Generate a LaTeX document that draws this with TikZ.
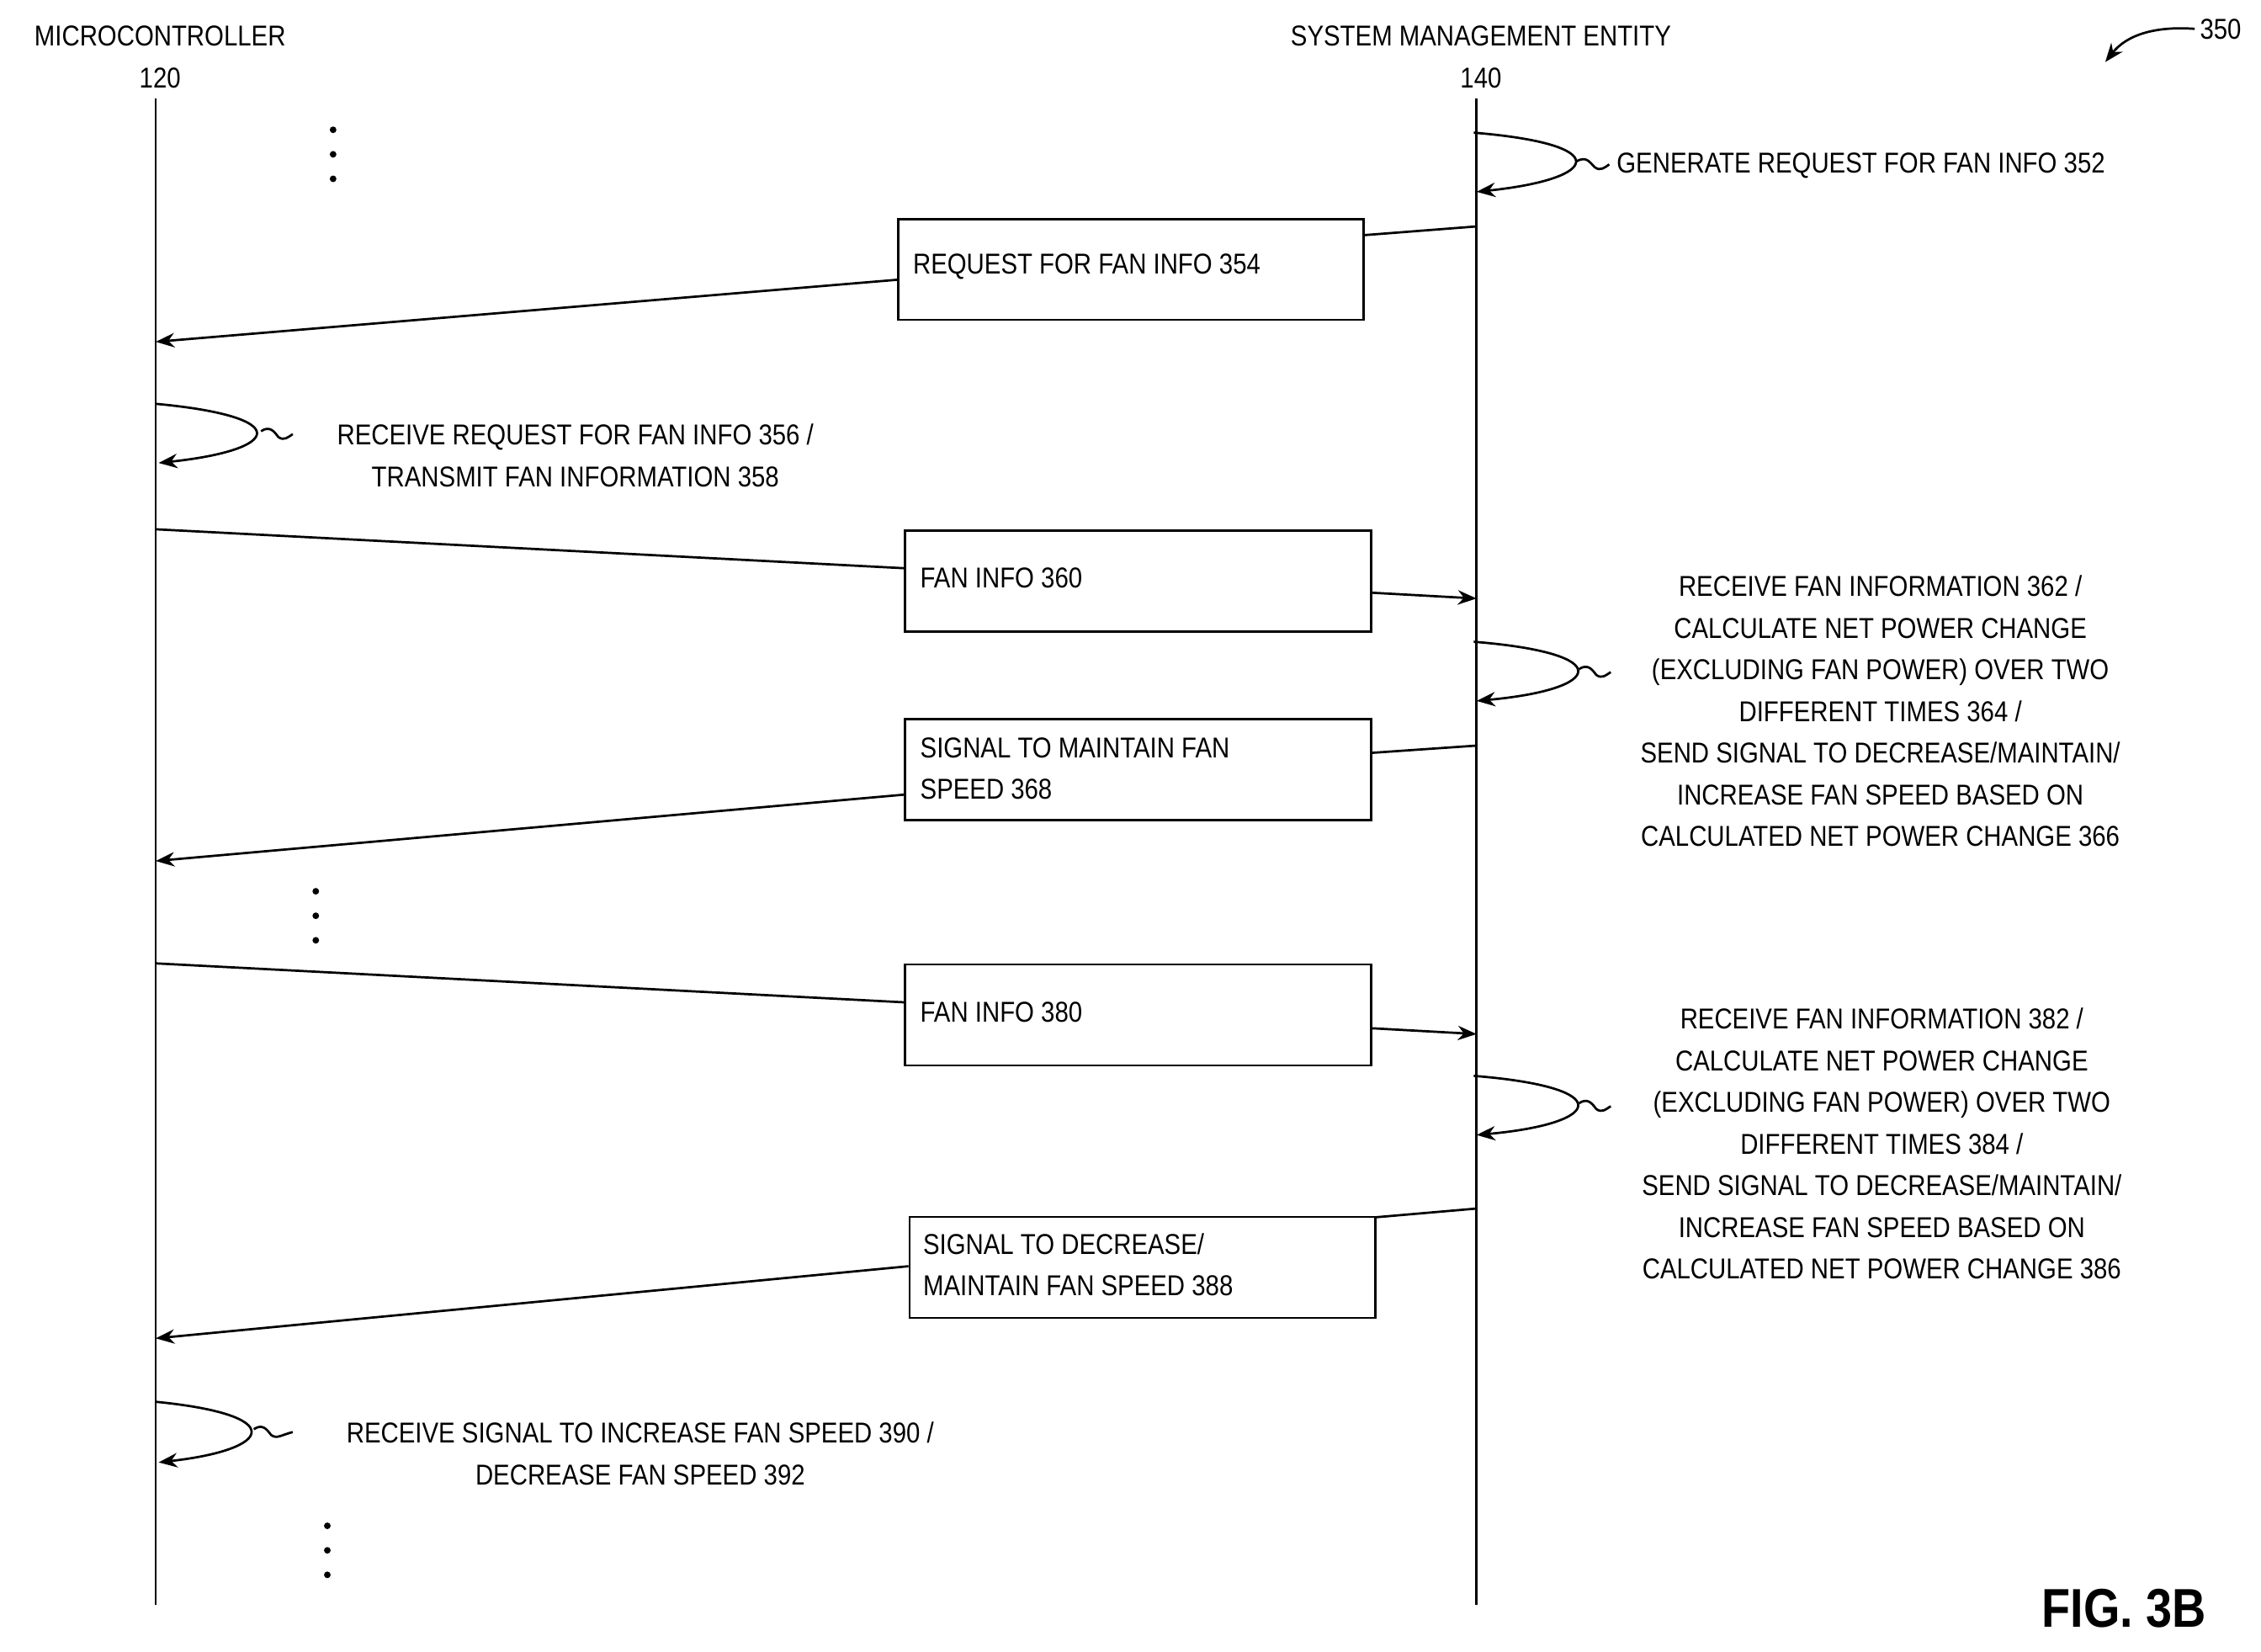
\documentclass[tikz,border=0pt]{standalone}
\usepackage{fontspec}
\setmainfont{Liberation Sans}[FakeStretch=0.86]
\usetikzlibrary{arrows.meta}
\begin{document}
\begin{tikzpicture}[x=1bp,y=-1bp,
  every node/.style={font=\fontsize{20}{29}\selectfont,inner sep=0pt},
  ln/.style={line width=1.6pt},
  arr/.style={ln,-{Stealth[length=13bp,width=10bp]}},
  box/.style={draw,line width=1.6pt,minimum width=323bp,minimum height=70bp,anchor=north west},
  bt/.style={anchor=west,align=left},
  lbl/.style={align=center}]
\useasboundingbox (0,0) rectangle (1568,1145);
% headers
\node (mc) at (111,25) {MICROCONTROLLER};
\node (mcn) at (111,54) {120};
\node (sme) at (1027,25) {SYSTEM MANAGEMENT ENTITY};
\node (smen) at (1027,54) {140};
\node (fig) at (1540,20) {350};
\coordinate (f1) at (1522,20);
\coordinate (f2) at (1460,43);
\draw[arr] (f1) .. controls (1495,18) and (1475,24) .. (f2);
% lifelines
\coordinate (mt) at (108,68); \coordinate (mb) at (108,1113);
\coordinate (st) at (1024,68); \coordinate (sb) at (1024,1113);
\draw[ln] (mt)--(mb); \draw[ln] (st)--(sb);
% dots
\foreach \x/\y in {231/90,219/618,227/1058}{
  \foreach \d in {0,17,34}{\fill (\x,\y+\d) circle (2.3bp);}}
% self loop SME 352
\coordinate (a1) at (1022,92); \coordinate (a2) at (1024,133);
\draw[arr] (a1) .. controls (1120,100) and (1110,124) .. (a2);
\draw[ln] (1093,112) .. controls (1100,108) and (1102,112) .. (1106,116) .. controls (1110,119) and (1113,116) .. (1116,114);
\node[anchor=west] (l352) at (1121,115) {GENERATE REQUEST FOR FAN INFO 352};
% 354
\node[box] (b354) at (622,151) {};
\node[bt] (t354) at (633,185) {REQUEST FOR FAN INFO 354};
\coordinate (s354) at (1024,157);
\coordinate (m354) at (108,237);
\draw[ln] (s354)--(b354.north east |- 0,163);
\draw[arr] (b354.west |- 0,194) -- (m354);
% loop MC 356
\coordinate (c1) at (108,280); \coordinate (c2) at (110,321);
\draw[arr] (c1) .. controls (205,289) and (195,312) .. (c2);
\draw[ln] (181,299) .. controls (187,295) and (190,299) .. (193,303) .. controls (197,306) and (200,303) .. (203,301);
\node[lbl] (l356) at (399,316) {RECEIVE REQUEST FOR FAN INFO 356 /\\TRANSMIT FAN INFORMATION 358};
% 360
\node[box] (b360) at (627,367) {};
\node[bt] (t360) at (638,401) {FAN INFO 360};
\draw[ln] (108,367) -- (b360.west |- 0,394);
\coordinate (s360) at (1024,415);
\draw[arr] (b360.east |- 0,411) -- (s360);
% loop SME 364
\draw[arr] (1022,445) .. controls (1122,453) and (1112,478) .. (1024,486);
\draw[ln] (1095,464) .. controls (1101,460) and (1104,464) .. (1107,468) .. controls (1111,471) and (1114,468) .. (1117,466);
\node[lbl] (l362) at (1304,493) {RECEIVE FAN INFORMATION 362 /\\CALCULATE NET POWER CHANGE\\(EXCLUDING FAN POWER) OVER TWO\\DIFFERENT TIMES 364 /\\SEND SIGNAL TO DECREASE/MAINTAIN/\\INCREASE FAN SPEED BASED ON\\CALCULATED NET POWER CHANGE 366};
% 368
\node[box] (b368) at (627,498) {};
\node[bt] (t368) at (638,533) {SIGNAL TO MAINTAIN FAN\\SPEED 368};
\draw[ln] (1024,517) -- (b368.east |- 0,522);
\coordinate (m368) at (108,597);
\draw[arr] (b368.west |- 0,551) -- (m368);
% 380
\node[box] (b380) at (627,668) {};
\node[bt] (t380) at (638,702) {FAN INFO 380};
\draw[ln] (108,668) -- (b380.west |- 0,695);
\coordinate (s380) at (1024,717);
\draw[arr] (b380.east |- 0,713) -- (s380);
% loop SME 384
\draw[arr] (1022,746) .. controls (1122,754) and (1112,779) .. (1024,787);
\draw[ln] (1095,765) .. controls (1101,761) and (1104,765) .. (1107,769) .. controls (1111,772) and (1114,769) .. (1117,767);
\node[lbl] (l382) at (1305,793) {RECEIVE FAN INFORMATION 382 /\\CALCULATE NET POWER CHANGE\\(EXCLUDING FAN POWER) OVER TWO\\DIFFERENT TIMES 384 /\\SEND SIGNAL TO DECREASE/MAINTAIN/\\INCREASE FAN SPEED BASED ON\\CALCULATED NET POWER CHANGE 386};
% 388
\node[box] (b388) at (630,843) {};
\node[bt] (t388) at (640,877) {SIGNAL TO DECREASE/\\MAINTAIN FAN SPEED 388};
\draw[ln] (1024,838) -- (b388.east |- 0,844);
\coordinate (m388) at (108,928);
\draw[arr] (b388.west |- 0,878) -- (m388);
% loop MC 390
\draw[arr] (108,972) .. controls (200,981) and (190,1005) .. (110,1014);
\draw[ln] (176,991) .. controls (182,987) and (185,991) .. (188,995) .. controls (192,998) and (195,995) .. (203,993);
\node[lbl] (l390) at (444,1008) {RECEIVE SIGNAL TO INCREASE FAN SPEED 390 /\\DECREASE FAN SPEED 392};
\node[font=\fontsize{38}{40}\selectfont\bfseries] (fig3b) at (1473,1115) {FIG. 3B};
\end{tikzpicture}
\end{document}
